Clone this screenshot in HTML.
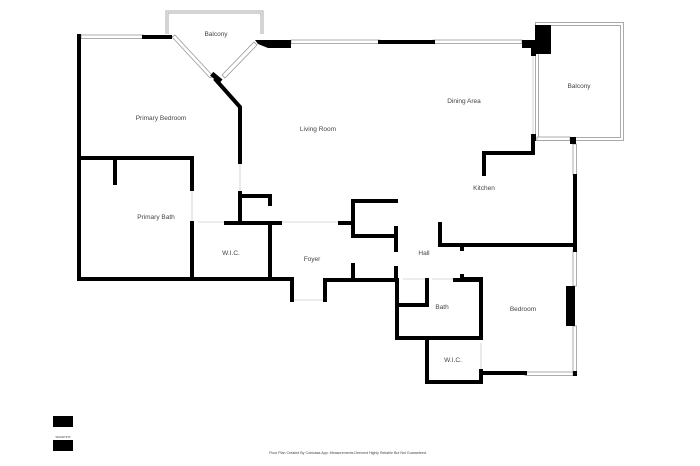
<!DOCTYPE html>
<html><head><meta charset="utf-8"><style>
html,body{margin:0;padding:0;background:#fff;width:700px;height:466px;overflow:hidden}
svg{display:block}
text{font-family:"Liberation Sans",sans-serif;fill:#444}
</style></head><body>
<svg width="700" height="466" viewBox="0 0 700 466" xmlns="http://www.w3.org/2000/svg">
<!-- balconies -->
<g fill="none" stroke="#aaa" stroke-width="1">
<polyline points="166,34 166,11 263,11 263,34"/>
<polyline points="168,34 168,13 261,13 261,34"/>
<rect x="535.5" y="22.5" width="88" height="118"/>
<rect x="538.5" y="25.5" width="82" height="112"/>
</g>
<!-- windows -->
<g fill="#fff" stroke="#999" stroke-width="0.8">
<rect x="81" y="35" width="63" height="3.5"/>
<rect x="291" y="40" width="89" height="3.5"/>
<rect x="433" y="40" width="89" height="3.5"/>
<rect x="537" y="137" width="33" height="3.5"/>
<rect x="573" y="144" width="3.5" height="31"/>
<rect x="573" y="250" width="3.5" height="36"/>
<rect x="573" y="326" width="3.5" height="47"/>
<rect x="525" y="372" width="48" height="3.5"/>
<polygon points="172,37 175,35 213,76 210,78"/>
<polygon points="254,42 257,45 225,78 222,75"/>
</g>
<g stroke="#ccc" stroke-width="0.8" fill="none">
<line x1="533" y1="56" x2="533" y2="134"/>
<line x1="240" y1="163" x2="240" y2="192"/>
<line x1="192" y1="190" x2="192" y2="222"/>
<line x1="198" y1="222" x2="225" y2="222"/>
<line x1="281" y1="222" x2="340" y2="222"/>
<line x1="294" y1="300" x2="323" y2="300"/>
<line x1="403" y1="279" x2="425" y2="279"/>
<line x1="432" y1="279" x2="455" y2="279"/>
<line x1="481" y1="343" x2="481" y2="370"/>
</g>
<!-- walls -->
<g stroke="#000" stroke-width="4" fill="none" stroke-linecap="square">
<polyline points="79,36 79,279 292,279 292,300"/>
<polyline points="325,300 325,280 397,280 397,338 427,338 427,382 481,382 481,373 525,373"/>
<line x1="144" y1="37" x2="170" y2="37"/>
<polyline points="216,80 240,107 240,162"/>
<polyline points="240,193 240,222 240,196 270,196 270,204"/>
<line x1="240" y1="222" x2="240" y2="222"/>
<line x1="380" y1="42" x2="433" y2="42"/>
<polyline points="79,158 192,158 192,189"/>
<line x1="115" y1="158" x2="115" y2="183"/>
<line x1="192" y1="223" x2="192" y2="279"/>
<line x1="226" y1="223" x2="280" y2="223"/>
<line x1="270" y1="223" x2="270" y2="279"/>
<line x1="340" y1="223" x2="353" y2="223"/>
<polyline points="396,201 353,201 353,236 396,236"/>
<line x1="353" y1="265" x2="353" y2="279"/>
<line x1="396" y1="228" x2="396" y2="250"/>
<line x1="396" y1="268" x2="396" y2="280"/>
<polyline points="533,140 533,153 484,153 484,174"/>
<line x1="575" y1="176" x2="575" y2="250"/>
<polyline points="440,224 440,245 575,245"/>
<line x1="462" y1="246" x2="462" y2="249"/>
<polyline points="462,276 462,279 481,279 481,338 397,338"/>
<polyline points="397,305 427,305 427,280"/>
<line x1="455" y1="280" x2="481" y2="280"/>
<line x1="481" y1="371" x2="481" y2="382"/>
</g>
<g fill="#000">
<rect x="210" y="75" width="12" height="5" transform="rotate(40 216 78)"/>
<polygon points="255,40 291,40 291,48 268,48 258,44"/>
<rect x="535" y="25" width="16" height="29"/>
<rect x="522" y="40" width="14" height="8"/>
<rect x="531" y="47" width="5" height="9"/>
<rect x="531" y="134" width="5" height="7"/>
<rect x="570" y="137" width="6" height="7"/>
<rect x="566" y="286" width="9" height="40"/>
<rect x="573" y="371" width="4" height="5"/>
<rect x="53" y="416" width="20" height="11"/>
<rect x="53" y="440" width="20" height="11"/>
</g>
<g font-size="6.5" text-anchor="middle">
<text x="216" y="36">Balcony</text>
<text x="161" y="120">Primary Bedroom</text>
<text x="318" y="131">Living Room</text>
<text x="464" y="103">Dining Area</text>
<text x="579" y="88">Balcony</text>
<text x="484" y="190">Kitchen</text>
<text x="156" y="219">Primary Bath</text>
<text x="231" y="255">W.I.C.</text>
<text x="312" y="261">Foyer</text>
<text x="424" y="255">Hall</text>
<text x="442" y="309">Bath</text>
<text x="523" y="311">Bedroom</text>
<text x="453" y="362">W.I.C.</text>
</g>
<text x="63" y="438" font-size="3" text-anchor="middle">SMARTPIX</text>
<text x="348" y="454" font-size="3.6" text-anchor="middle">Floor Plan Created By Cubicasa App. Measurements Deemed Highly Reliable But Not Guaranteed.</text>
</svg>
</body></html>
